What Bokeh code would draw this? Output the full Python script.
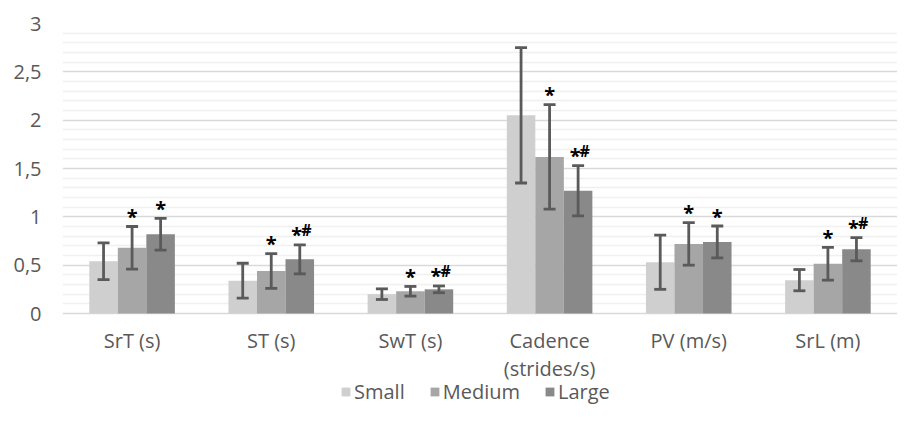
from bokeh.plotting import figure
from bokeh.models import ColumnDataSource, FactorRange, Range1d, FixedTicker, Legend, LegendItem
from bokeh.transform import dodge
from bokeh.core.properties import value
from bokeh.embed import file_html
from bokeh.resources import INLINE

# ---------------- data ----------------
categories = ["SrT (s)", "ST (s)", "SwT (s)", "Cadence\n(strides/s)", "PV (m/s)", "SrL (m)"]
series_names = ["Small", "Medium", "Large"]

small_mean = [0.54, 0.34, 0.20, 2.05, 0.53, 0.345]
small_sd = [0.19, 0.18, 0.055, 0.70, 0.28, 0.11]
medium_mean = [0.68, 0.44, 0.23, 1.62, 0.72, 0.515]
medium_sd = [0.22, 0.18, 0.05, 0.54, 0.22, 0.17]
large_mean = [0.82, 0.56, 0.25, 1.27, 0.74, 0.665]
large_sd = [0.165, 0.15, 0.035, 0.26, 0.165, 0.12]

medium_sig = ["*", "*", "*", "*", "*", "*"]
large_sig_star = ["*", "*", "*", "*", "*", "*"]
large_sig_hash = ["", "#", "#", "#", "", "#"]

y_ticks = [0, 0.5, 1, 1.5, 2, 2.5, 3]
y_tick_labels = ["0", "0,5", "1", "1,5", "2", "2,5", "3"]
y_minor = [0.1, 0.2, 0.3, 0.4, 0.6, 0.7, 0.8, 0.9, 1.1, 1.2, 1.3, 1.4, 1.6, 1.7, 1.8, 1.9,
           2.1, 2.2, 2.3, 2.4, 2.6, 2.7, 2.8, 2.9]

# ---------------- style / layout ----------------
FONT = "Open Sans"
TXT = "#595959"
COLORS = ["#cfcfcf", "#a6a6a6", "#898989"]
ERR = "#5a5a5a"
BAR_W = 0.205
OFFS = [-BAR_W, 0.0, BAR_W]

FRAME_H = 382      # frame reaches the bottom of the figure (room for labels + legend)
DATA_H = 290       # pixels used by the 0..3 value span
Y_TOP = 3
Y_LO = -Y_TOP * (FRAME_H - DATA_H) / DATA_H

src = ColumnDataSource(dict(
    cat=categories,
    s_mean=small_mean, s_lo=[m - s for m, s in zip(small_mean, small_sd)], s_hi=[m + s for m, s in zip(small_mean, small_sd)],
    m_mean=medium_mean, m_lo=[m - s for m, s in zip(medium_mean, medium_sd)], m_hi=[m + s for m, s in zip(medium_mean, medium_sd)],
    l_mean=large_mean, l_lo=[m - s for m, s in zip(large_mean, large_sd)], l_hi=[m + s for m, s in zip(large_mean, large_sd)],
    m_sig=medium_sig, l_star=large_sig_star, l_hash=large_sig_hash,
    l_star_dx=[-3 if h else 0 for h in large_sig_hash],
    zero=[0] * len(categories),
))

p = figure(x_range=FactorRange(*categories), y_range=Range1d(Y_LO, Y_TOP),
           frame_width=835, frame_height=FRAME_H,
           min_border_left=62, min_border_right=0, min_border_top=23, min_border_bottom=0,
           output_backend="svg", toolbar_location=None, tools="")
p.outline_line_color = None
p.background_fill_color = "white"
p.border_fill_color = "white"

keys = ["s", "m", "l"]
renderers = []
for k, off, col in zip(keys, OFFS, COLORS):
    xs = dodge("cat", off, range=p.x_range)
    r = p.vbar(x=xs, top=f"{k}_mean", bottom=0, width=BAR_W, source=src, fill_color=col, line_color=None)
    renderers.append(r)
for k, off in zip(keys, OFFS):
    xs = dodge("cat", off, range=p.x_range)
    p.segment(x0=xs, y0=f"{k}_lo", x1=xs, y1=f"{k}_hi", source=src, line_color=ERR, line_width=2.8)
    p.scatter(x=xs, y=f"{k}_hi", marker="dash", size=12, line_width=2.8, line_color=ERR, source=src)
    p.scatter(x=xs, y=f"{k}_lo", marker="dash", size=12, line_width=2.8, line_color=ERR, source=src)

# significance markers
xm = dodge("cat", OFFS[1], range=p.x_range)
xl = dodge("cat", OFFS[2], range=p.x_range)
p.text(x=xm, y="m_hi", text="m_sig", source=src, text_font=value(FONT), text_font_style="bold",
       text_font_size="20px", text_color="black", text_align="center", text_baseline="alphabetic",
       y_offset=-10)
p.text(x=xl, y="l_hi", text="l_star", source=src, x_offset="l_star_dx", text_font=value(FONT),
       text_font_style="bold", text_font_size="20px", text_color="black", text_align="center",
       text_baseline="alphabetic", y_offset=-10)
p.text(x=xl, y="l_hi", text="l_hash", source=src, x_offset=1.5, text_font=value(FONT),
       text_font_style="bold", text_font_size="16px", text_color="black", text_align="left",
       text_baseline="alphabetic", y_offset=-15)

# category labels under the zero line (drawn through the categorical scale)
p.text(x="cat", y="zero", text="cat", source=src, text_font=value(FONT), text_font_size="20px",
       text_color=TXT, text_align="center", text_baseline="top", y_offset=13,
       text_line_height=1.05)

# axes & grid
p.xaxis.visible = False
p.yaxis.ticker = FixedTicker(ticks=y_ticks, minor_ticks=y_minor)
p.yaxis.major_label_overrides = {t: l for t, l in zip(y_ticks, y_tick_labels)}
p.yaxis.axis_line_color = None
p.yaxis.major_tick_line_color = None
p.yaxis.minor_tick_line_color = None
p.yaxis.major_tick_out = 0
p.yaxis.major_tick_in = 0
p.yaxis.minor_tick_out = 0
p.yaxis.major_label_text_font = FONT
p.yaxis.major_label_text_font_size = "20px"
p.yaxis.major_label_text_color = TXT
p.yaxis.major_label_standoff = 21

p.xgrid.grid_line_color = None
p.ygrid.ticker = FixedTicker(ticks=y_ticks, minor_ticks=y_minor)
p.ygrid.grid_line_color = "#d9d9d9"
p.ygrid.grid_line_width = 1.5
p.ygrid.minor_grid_line_color = "#f0f0f0"
p.ygrid.minor_grid_line_width = 1.5

legend = Legend(items=[LegendItem(label=n, renderers=[r]) for n, r in zip(series_names, renderers)],
                orientation="horizontal", location=(278, 0),
                glyph_width=11, glyph_height=11, label_standoff=3, spacing=24,
                padding=0, margin=0, border_line_color=None, background_fill_alpha=0,
                label_text_font=FONT, label_text_font_size="20px", label_text_color=TXT)
p.add_layout(legend, "center")

open("out.html", "w").write(file_html(p, INLINE))
